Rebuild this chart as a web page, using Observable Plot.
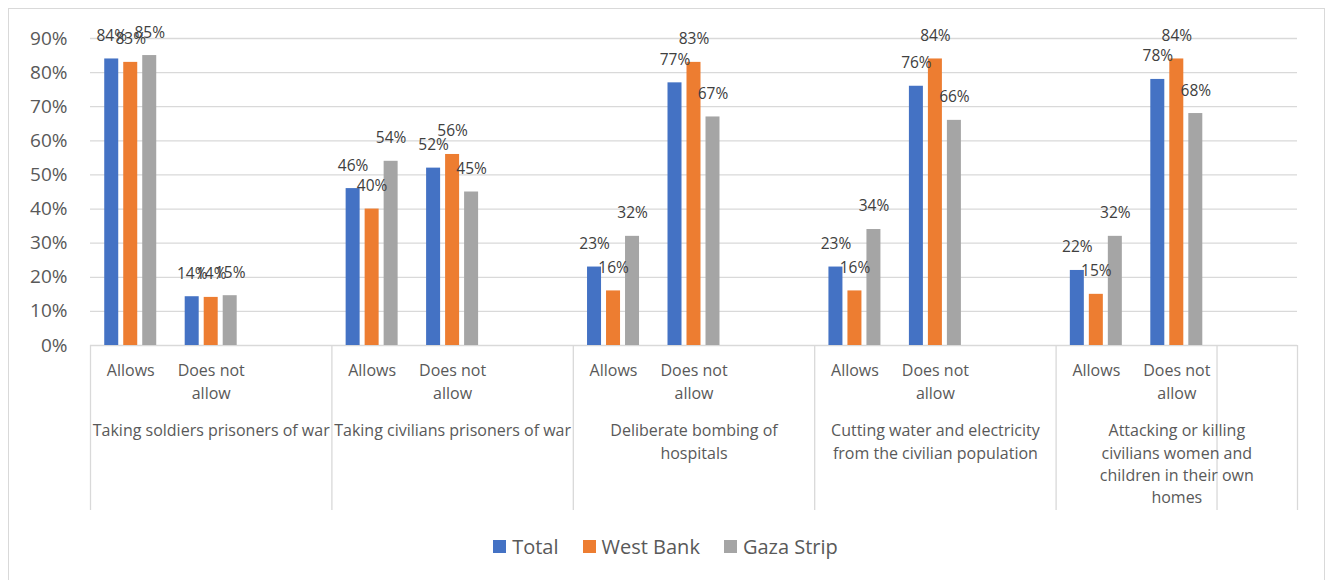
<!DOCTYPE html>
<html>
<head>
<meta charset="utf-8">
<script src="https://cdn.jsdelivr.net/npm/d3@7"></script>
<script src="https://cdn.jsdelivr.net/npm/@observablehq/plot@0.6"></script>
<style>
  html, body { margin: 0; padding: 0; background: #fff; }
  body { width: 1331px; height: 580px; position: relative; overflow: hidden; font-family: "Open Sans", sans-serif; }
  #frame { position: absolute; left: 8px; top: 8px; width: 1317px; height: 620px; border: 1px solid #d9d9d9; box-sizing: border-box; }
  #chart { position: absolute; left: 0; top: 0; }
  #legend { position: absolute; left: 0; top: 531px; width: 1331px; height: 30px; display: flex; justify-content: center; align-items: center; gap: 24px; font-size: 20px; color: #595959; }
  #legend .item { display: flex; align-items: center; gap: 6px; }
  #legend .sw { width: 13px; height: 13px; display: inline-block; }
</style>
</head>
<body>
<div id="frame"></div>
<div id="chart"></div>
<div id="legend"></div>
<script>
// ---- data ----
const groups = [
  "Taking soldiers prisoners of war",
  "Taking civilians prisoners of war",
  "Deliberate bombing of\nhospitals",
  "Cutting water and electricity\nfrom the civilian population",
  "Attacking or killing\ncivilians women and\nchildren in their own\nhomes"
];
const answers = ["Allows", "Does not\nallow"];
const seriesNames = ["Total", "West Bank", "Gaza Strip"];
const seriesColors = ["#4472C4", "#ED7D31", "#A5A5A5"];
// values per (group, answer) in order: g1 Allows, g1 Does not allow, g2 Allows, ...
const total    = [0.84, 0.143, 0.46, 0.52, 0.23, 0.77, 0.23, 0.76, 0.22, 0.78];
const westBank = [0.83, 0.141, 0.40, 0.56, 0.16, 0.83, 0.16, 0.84, 0.15, 0.84];
const gaza     = [0.85, 0.146, 0.54, 0.45, 0.32, 0.67, 0.34, 0.66, 0.32, 0.68];
const yTicks = [0, 0.1, 0.2, 0.3, 0.4, 0.5, 0.6, 0.7, 0.8, 0.9];

// ---- build tables ----
const slots = [];
groups.forEach((g, gi) => {
  slots.push(gi + "|a", gi + "|n", gi + "|blank");
});
const seriesValues = [total, westBank, gaza];
const rows = [];
groups.forEach((g, gi) => {
  answers.forEach((a, ai) => {
    seriesNames.forEach((s, si) => {
      rows.push({slot: gi + (ai === 0 ? "|a" : "|n"), series: s, si, value: seriesValues[si][gi * 2 + ai]});
    });
  });
});
const answerRows = [];
groups.forEach((g, gi) => answers.forEach((a, ai) => answerRows.push({slot: gi + (ai === 0 ? "|a" : "|n"), label: a})));
const groupRows = groups.map((g, gi) => ({slot: gi + "|n", label: g}));
const sepLeft = groups.map((g, gi) => gi + "|a").concat([(groups.length - 1) + "|blank"]);
const sepRight = [(groups.length - 1) + "|blank"];

const W = 1331, H = 520, ML = 90, MR = 34, MT = 38, MB = 175;
const step = (W - ML - MR) / slots.length;
const barW = 14, barGap = 19;
const inset = (step - barW) / 2;

const marks = [
  Plot.ruleY(yTicks, {y: d => d, stroke: "#d9d9d9", strokeWidth: 1.3}),
  Plot.axisY(yTicks, {tickSize: 0, tickPadding: 23, label: null, tickFormat: d => Math.round(d * 100) + "%", fontSize: 19, fill: "#595959"}),
  Plot.ruleX(sepLeft, {x: d => d, y1: 0, y2: 0, insetBottom: -165, dx: -step / 2, stroke: "#d9d9d9", strokeWidth: 1.3}),
  Plot.ruleX(sepRight, {x: d => d, y1: 0, y2: 0, insetBottom: -165, dx: step / 2, stroke: "#d9d9d9", strokeWidth: 1.3})
];
seriesNames.forEach((s, si) => {
  const data = rows.filter(r => r.si === si);
  marks.push(Plot.barY(data, {x: "slot", y: "value", fill: seriesColors[si], insetLeft: inset, insetRight: inset, dx: (si - 1) * barGap}));
});
seriesNames.forEach((s, si) => {
  const data = rows.filter(r => r.si === si);
  marks.push(Plot.text(data, {x: "slot", y: "value", text: d => Math.round(d.value * 100) + "%", dx: (si - 1) * barGap, dy: -23, lineAnchor: "middle", fontSize: 15.5, fill: "#404040"}));
});
marks.push(Plot.text(answerRows, {x: "slot", y: 0, text: "label", lineAnchor: "top", dy: 14.5, fontSize: 16, lineHeight: 1.43, fill: "#595959"}));
marks.push(Plot.text(groupRows, {x: "slot", y: 0, text: "label", lineAnchor: "top", dy: 75, fontSize: 16, lineHeight: 1.39, fill: "#595959"}));

const chart = Plot.plot({
  width: W, height: H,
  marginLeft: ML, marginRight: MR, marginTop: MT, marginBottom: MB,
  style: {fontFamily: "Open Sans, sans-serif", background: "transparent", overflow: "visible"},
  x: {type: "band", domain: slots, padding: 0, round: false, axis: null},
  y: {domain: [0, 0.9], axis: null},
  marks
});
document.getElementById("chart").appendChild(chart);

const legend = document.getElementById("legend");
seriesNames.forEach((s, si) => {
  const item = document.createElement("div");
  item.className = "item";
  const sw = document.createElement("span");
  sw.className = "sw";
  sw.style.background = seriesColors[si];
  const t = document.createElement("span");
  t.textContent = s;
  item.appendChild(sw);
  item.appendChild(t);
  legend.appendChild(item);
});
</script>
</body>
</html>
